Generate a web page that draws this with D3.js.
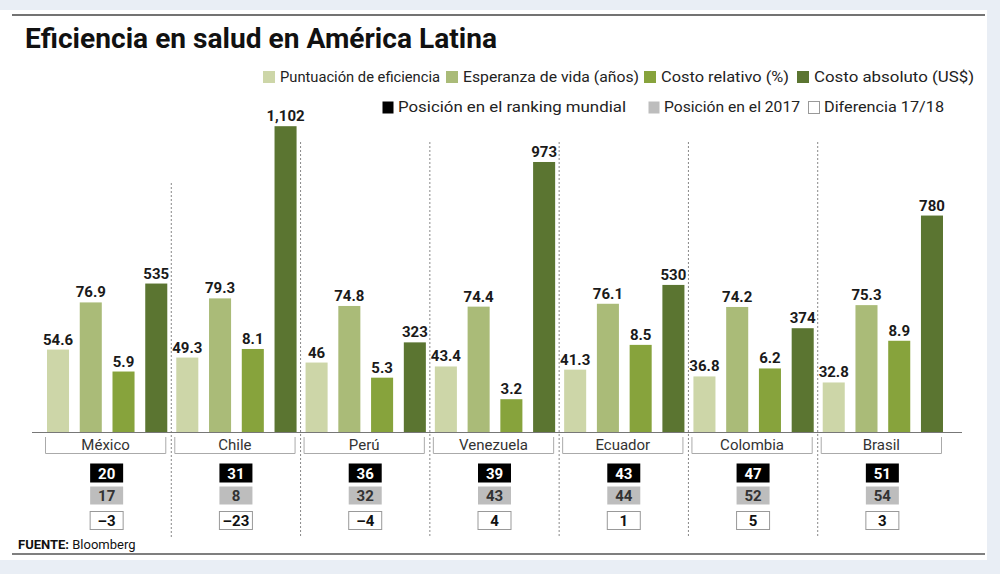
<!DOCTYPE html>
<html lang="es">
<head>
    <meta charset="UTF-8">
    <title>Eficiencia en salud en América Latina</title>
    <script src="https://cdnjs.cloudflare.com/ajax/libs/d3/7.8.5/d3.min.js"></script>
    <style>
        html, body { margin: 0; padding: 0; background: #e9eef5; }
        svg { display: block; font-family: Roboto, "Liberation Sans", sans-serif; }
    </style>
</head>
<body>
    <div id="chart"></div>

    <script>
        // datos
        const paises = ["México", "Chile", "Perú", "Venezuela", "Ecuador", "Colombia", "Brasil"];
        const puntuacion = [54.6, 49.3, 46, 43.4, 41.3, 36.8, 32.8];
        const esperanza = [76.9, 79.3, 74.8, 74.4, 76.1, 74.2, 75.3];
        const costoRelativo = [5.9, 8.1, 5.3, 3.2, 8.5, 6.2, 8.9];
        const costoAbsoluto = [535, 1102, 323, 973, 530, 374, 780];
        const rankingMundial = [20, 31, 36, 39, 43, 47, 51];
        const posicion2017 = [17, 8, 32, 43, 44, 52, 54];
        const diferencia = [-3, -23, -4, 4, 1, 5, 3];

        const series = ["Puntuación de eficiencia", "Esperanza de vida (años)", "Costo relativo (%)", "Costo absoluto (US$)"];
        const leyendaPosicion = ["Posición en el ranking mundial", "Posición en el 2017", "Diferencia 17/18"];

        const colores = ["#cdd6a8", "#aabb78", "#87a33c", "#5b7531"];

        const width = 1000;
        const height = 574;
        const baseY = 432;

        const svg = d3.select("#chart")
            .append("svg")
            .attr("width", width)
            .attr("height", height);

        // panel blanco
        svg.append("rect")
            .attr("x", 0).attr("y", 10)
            .attr("width", 987).attr("height", 550)
            .attr("fill", "#fff");

        svg.append("line")
            .attr("x1", 12).attr("x2", 985)
            .attr("y1", 15).attr("y2", 15)
            .attr("stroke", "#444").attr("stroke-width", 1.5);

        svg.append("line")
            .attr("x1", 12).attr("x2", 985)
            .attr("y1", 554).attr("y2", 554)
            .attr("stroke", "#555").attr("stroke-width", 1.5);

        svg.append("text")
            .attr("x", 25).attr("y", 48)
            .attr("font-size", 27)
            .attr("font-weight", "bold")
            .attr("fill", "#111")
            .attr("textLength", 472)
            .attr("lengthAdjust", "spacingAndGlyphs")
            .text("Eficiencia en salud en América Latina");

        // leyenda
        const ley1 = [
            { x: 263, w: 160 }, { x: 446, w: 176 }, { x: 644, w: 128 }, { x: 797, w: 160 }
        ];
        series.forEach((s, i) => {
            svg.append("rect")
                .attr("x", ley1[i].x).attr("y", 71)
                .attr("width", 12).attr("height", 12)
                .attr("fill", colores[i]);
            svg.append("text")
                .attr("x", ley1[i].x + 17).attr("y", 82)
                .attr("font-size", 14)
                .attr("fill", "#222")
                .attr("textLength", ley1[i].w)
                .attr("lengthAdjust", "spacingAndGlyphs")
                .text(s);
        });

        const ley2 = [
            { x: 382, w: 228, fill: "#000", stroke: "none" },
            { x: 648, w: 136, fill: "#bdbdbd", stroke: "none" },
            { x: 808, w: 120, fill: "#fff", stroke: "#999" }
        ];
        leyendaPosicion.forEach((s, i) => {
            svg.append("rect")
                .attr("x", ley2[i].x + 0.5).attr("y", 101.5)
                .attr("width", 11).attr("height", 12)
                .attr("fill", ley2[i].fill)
                .attr("stroke", ley2[i].stroke);
            svg.append("text")
                .attr("x", ley2[i].x + 16).attr("y", 112)
                .attr("font-size", 14)
                .attr("fill", "#222")
                .attr("textLength", ley2[i].w)
                .attr("lengthAdjust", "spacingAndGlyphs")
                .text(s);
        });

        // escalas
        const x = d3.scaleBand()
            .domain(paises)
            .range([42, 947]);

        const xs = d3.scaleBand()
            .domain(d3.range(4))
            .range([5, x.step() - 4])
            .paddingInner(0.327);

        const ys = [
            d3.scaleLinear().domain([0, 100]).range([baseY, baseY - 151]),
            d3.scaleLinear().domain([0, 100]).range([baseY, baseY - 168.5]),
            d3.scaleLinear().domain([0, 10]).range([baseY, baseY - 102.5]),
            d3.scaleLinear().domain([0, 1000]).range([baseY, baseY - 277.5])
        ];

        const valores = [puntuacion, esperanza, costoRelativo, costoAbsoluto];
        const formato = [d => String(d), d => String(d), d => String(d), d3.format(",")];

        const datos = [];
        paises.forEach((p, i) => {
            valores.forEach((v, k) => datos.push({ pais: p, serie: k, valor: v[i] }));
        });

        // separadores punteados
        paises.slice(1).forEach((p, i) => {
            svg.append("line")
                .attr("x1", x(p)).attr("x2", x(p))
                .attr("y1", i === 0 ? 183 : 142).attr("y2", 538)
                .attr("stroke", "#888")
                .attr("stroke-width", 1)
                .attr("stroke-dasharray", "2,2");
        });

        // barras
        svg.append("g")
            .selectAll("rect")
            .data(datos)
            .join("rect")
            .attr("x", d => x(d.pais) + xs(d.serie))
            .attr("y", d => ys[d.serie](d.valor))
            .attr("width", xs.bandwidth())
            .attr("height", d => baseY - ys[d.serie](d.valor))
            .attr("fill", d => colores[d.serie]);

        svg.append("g")
            .selectAll("text")
            .data(datos)
            .join("text")
            .attr("x", d => x(d.pais) + xs(d.serie) + xs.bandwidth() / 2)
            .attr("y", d => ys[d.serie](d.valor) - 5)
            .attr("text-anchor", "middle")
            .attr("font-size", 15)
            .attr("font-weight", "bold")
            .attr("fill", "#1a1a1a")
            .text(d => formato[d.serie](d.valor));

        // eje
        svg.append("line")
            .attr("x1", 32).attr("x2", 962)
            .attr("y1", baseY + 0.5).attr("y2", baseY + 0.5)
            .attr("stroke", "#777").attr("stroke-width", 1.2);

        // etiquetas de país
        const etiquetas = svg.append("g")
            .selectAll("g")
            .data(paises)
            .join("g")
            .attr("transform", d => `translate(${x(d)},0)`);

        etiquetas.append("path")
            .attr("d", `M3.5,437 V453.5 H${x.step() - 5.5} V437`)
            .attr("fill", "none")
            .attr("stroke", "#aaa")
            .attr("stroke-width", 1);

        etiquetas.append("text")
            .attr("x", x.step() / 2 - 1)
            .attr("y", 450)
            .attr("text-anchor", "middle")
            .attr("font-size", 15)
            .attr("fill", "#333")
            .text(d => d);

        // cajas de posiciones
        const filas = [
            { vals: rankingMundial, y: 463, h: 19, fill: "#000", stroke: "none", color: "#fff" },
            { vals: posicion2017, y: 486, h: 18, fill: "#bdbdbd", stroke: "none", color: "#333" },
            { vals: diferencia, y: 511, h: 18, fill: "#fff", stroke: "#999", color: "#111" }
        ];

        filas.forEach(f => {
            const g = svg.append("g")
                .selectAll("g")
                .data(paises)
                .join("g")
                .attr("transform", d => `translate(${x(d) + x.step() / 2},0)`);

            g.append("rect")
                .attr("x", -16.5).attr("y", f.y + 0.5)
                .attr("width", 33).attr("height", f.h)
                .attr("fill", f.fill)
                .attr("stroke", f.stroke);

            g.append("text")
                .attr("y", f.y + f.h / 2 + 6)
                .attr("text-anchor", "middle")
                .attr("font-size", 15)
                .attr("font-weight", "bold")
                .attr("fill", f.color)
                .text((d, i) => String(f.vals[i]).replace("-", "–"));
        });

        // fuente
        const fuente = svg.append("text")
            .attr("x", 18).attr("y", 549)
            .attr("font-size", 13)
            .attr("fill", "#111");
        fuente.append("tspan").attr("font-weight", "bold").text("FUENTE:");
        fuente.append("tspan").text(" Bloomberg");
    </script>
</body>
</html>
